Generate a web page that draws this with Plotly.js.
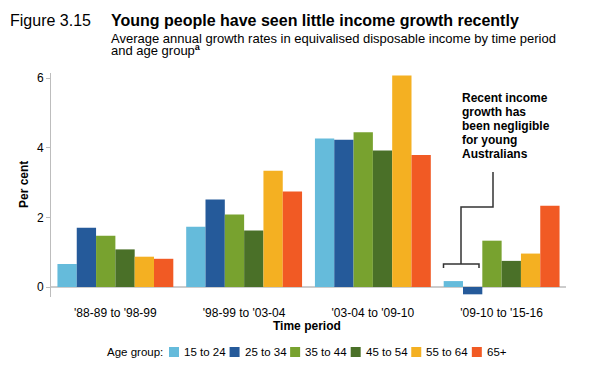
<!DOCTYPE html>
<html><head><meta charset="utf-8">
<script src="https://cdn.plot.ly/plotly-3.0.1.min.js"></script>
<style>html,body{margin:0;padding:0;background:#fff;} #chart{width:589px;height:376px;}</style>
</head><body><div id="chart"></div>
<script>
// ---- data ----
const periods = ["'88-89 to '98-99", "'98-99 to '03-04", "'03-04 to '09-10", "'09-10 to '15-16"];
const ageGroups = ["15 to 24", "25 to 34", "35 to 44", "45 to 54", "55 to 64", "65+"];
const v15to24 = [0.66, 1.73, 4.26, 0.17];
const v25to34 = [1.70, 2.51, 4.23, -0.21];
const v35to44 = [1.47, 2.08, 4.44, 1.33];
const v45to54 = [1.08, 1.62, 3.92, 0.75];
const v55to64 = [0.87, 3.34, 6.07, 0.96];
const v65plus = [0.81, 2.74, 3.79, 2.33];
const yTickVals = [0, 2, 4, 6];
const noteLines = ["Recent income", "growth has", "been negligible", "for young", "Australians"];

// ---- styles ----
const colors = ["#65BBDB", "#255A9A", "#78A22F", "#4A7028", "#F4B022", "#F15A24"];
const FONT = "Liberation Sans, Arial, sans-serif";
const W = 589, H = 376;
const M = {l: 51, r: 23, t: 73, b: 79};
const PW = W - M.l - M.r, PH = H - M.t - M.b;
const px = p => (p - M.l) / PW;
const py = p => (H - M.b - p) / PH;

const series = [v15to24, v25to34, v35to44, v45to54, v55to64, v65plus];
const traces = series.map((vals, i) => ({
  type: 'bar', x: periods, y: vals, name: ageGroups[i],
  marker: {color: colors[i], line: {width: 0}},
  showlegend: false, hoverinfo: 'skip'
}));

// text measuring for custom legend
const LEG_SIZE = 11.5;
const ctx = document.createElement('canvas').getContext('2d');
ctx.font = LEG_SIZE + "px 'Liberation Sans', Arial";
const tw = s => ctx.measureText(s).width;

const annotations = [
  {text: 'Figure 3.15', x: px(8), y: py(20), xref: 'paper', yref: 'paper', xanchor: 'left', yanchor: 'middle', showarrow: false, font: {family: FONT, size: 16, color: '#000'}},
  {text: '<b>Young people have seen little income growth recently</b>', x: px(109), y: py(20), xref: 'paper', yref: 'paper', xanchor: 'left', yanchor: 'middle', showarrow: false, font: {family: FONT, size: 16, color: '#000'}},
  {text: 'Average annual growth rates in equivalised disposable income by time period', x: px(109), y: py(38), xref: 'paper', yref: 'paper', xanchor: 'left', yanchor: 'middle', showarrow: false, font: {family: FONT, size: 13, color: '#000'}},
  {text: 'and age group<sup><b>a</b></sup>', x: px(109), y: py(49.5), xref: 'paper', yref: 'paper', xanchor: 'left', yanchor: 'middle', showarrow: false, font: {family: FONT, size: 13, color: '#000'}},
  {text: '<b>Per cent</b>', x: px(24), y: py(185), xref: 'paper', yref: 'paper', xanchor: 'center', yanchor: 'middle', textangle: -90, showarrow: false, font: {family: FONT, size: 12, color: '#000'}},
  {text: '<b>Time period</b>', x: px(307), y: py(326), xref: 'paper', yref: 'paper', xanchor: 'center', yanchor: 'middle', showarrow: false, font: {family: FONT, size: 12, color: '#000'}},
  {text: 'Age group:', x: px(105), y: py(352), xref: 'paper', yref: 'paper', xanchor: 'left', yanchor: 'middle', showarrow: false, font: {family: FONT, size: LEG_SIZE, color: '#000'}}
];
noteLines.forEach((t, i) => annotations.push({
  text: '<b>' + t + '</b>', x: px(460), y: py(98 + i * 14), xref: 'paper', yref: 'paper', xanchor: 'left', yanchor: 'middle', showarrow: false, font: {family: FONT, size: 12, color: '#000'}
}));

const shapes = [];
// custom legend
let lx = 169;
ageGroups.forEach((g, i) => {
  shapes.push({type: 'rect', xref: 'paper', yref: 'paper', x0: px(lx), x1: px(lx + 10), y0: py(357), y1: py(347), fillcolor: colors[i], line: {width: 0}});
  annotations.push({text: g, x: px(lx + 13), y: py(352), xref: 'paper', yref: 'paper', xanchor: 'left', yanchor: 'middle', showarrow: false, font: {family: FONT, size: LEG_SIZE, color: '#000'}});
  lx += 10 + 5 + tw(g) + 4;
});
// connector + bracket
const P = (x, y) => px(x) + ',' + py(y);
shapes.push({type: 'path', xref: 'paper', yref: 'paper', path: 'M' + P(493, 172) + ' L' + P(493, 207) + ' L' + P(461, 207) + ' L' + P(461, 264), line: {color: '#333', width: 1.5}});
shapes.push({type: 'path', xref: 'paper', yref: 'paper', path: 'M' + P(443.5, 268) + ' L' + P(443.5, 264) + ' L' + P(479, 264) + ' L' + P(479, 268), line: {color: '#333', width: 1.5}});

const layout = {
  width: W, height: H, margin: M,
  paper_bgcolor: '#fff', plot_bgcolor: '#fff',
  font: {family: FONT, size: 12, color: '#000'},
  barmode: 'group', bargap: 0.1, bargroupgap: 0,
  showlegend: false,
  xaxis: {type: 'category', range: [-0.5, 3.5], showline: false, ticks: '', showgrid: false, zeroline: false,
          ticklabelstandoff: 7,
          tickfont: {family: FONT, size: 12, color: '#000'}, fixedrange: true},
  yaxis: {range: [-0.287, 6.144], tickvals: yTickVals, showgrid: false, showline: true, linecolor: '#bdbdbd', linewidth: 1,
          ticks: 'outside', ticklen: 4, tickcolor: '#bdbdbd', zeroline: true, zerolinecolor: '#cccccc', zerolinewidth: 2,
          tickfont: {family: FONT, size: 12, color: '#000'}, fixedrange: true},
  annotations: annotations, shapes: shapes
};
Plotly.newPlot('chart', traces, layout, {staticPlot: true, displayModeBar: false});
</script></body></html>
